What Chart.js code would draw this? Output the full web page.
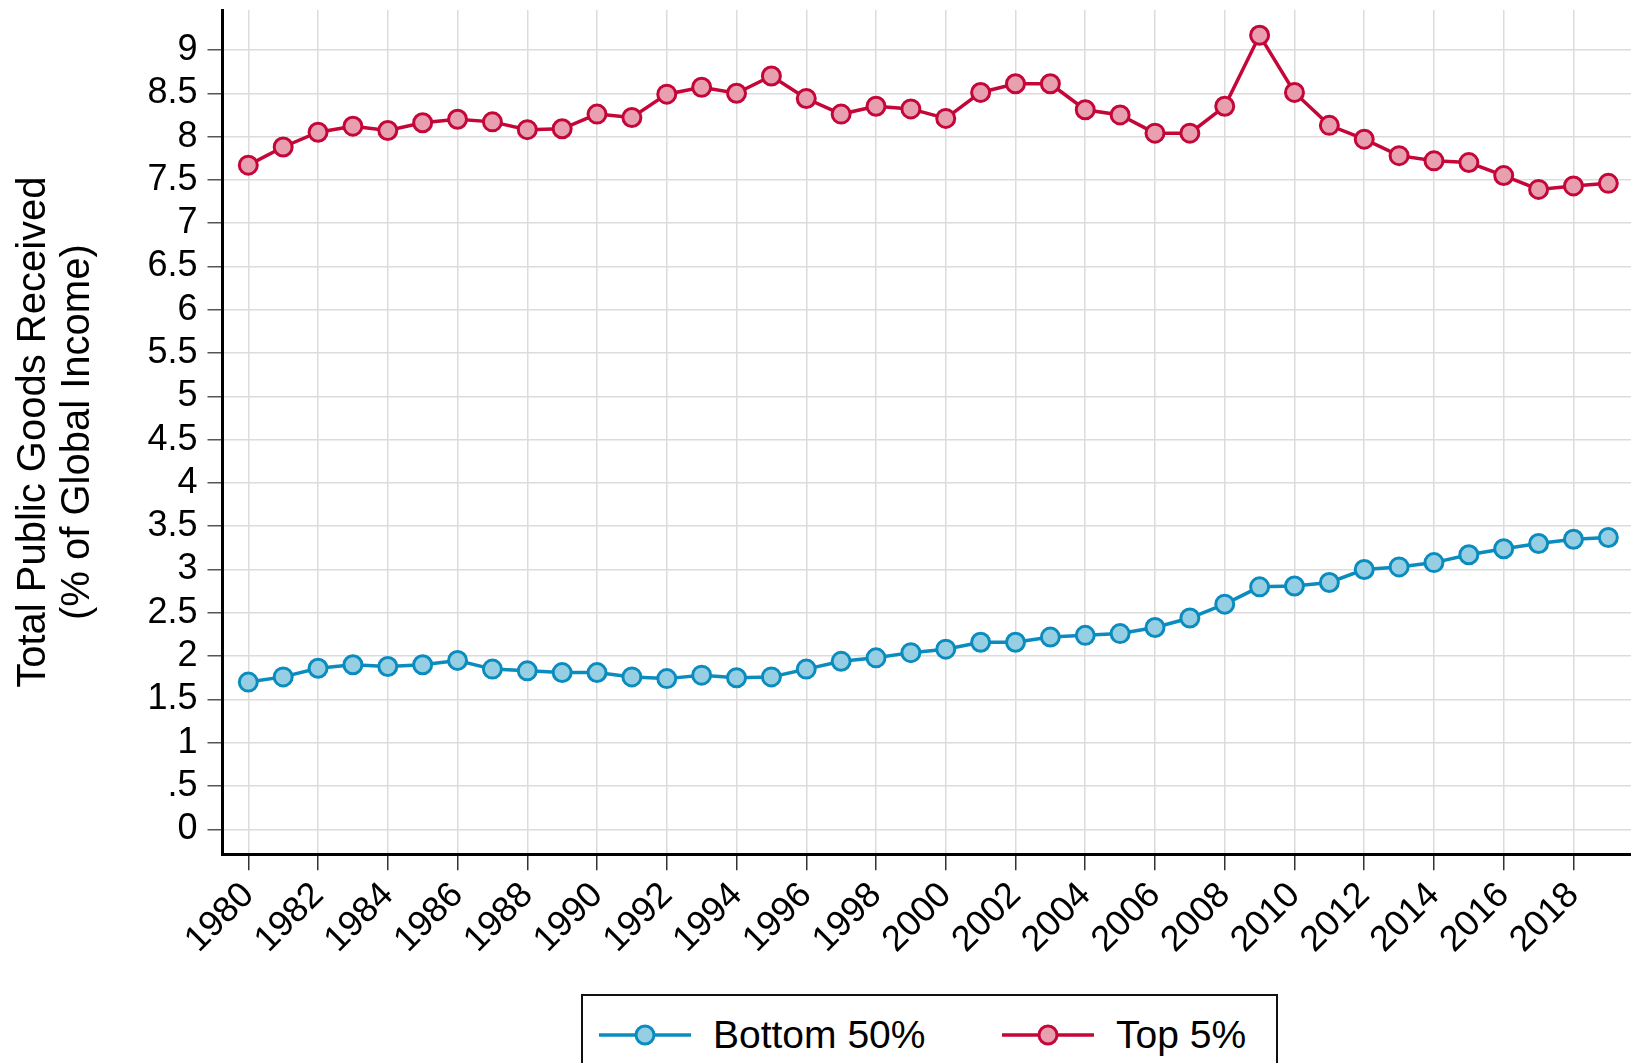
<!DOCTYPE html>
<html>
<head>
<meta charset="utf-8">
<script src="https://cdn.jsdelivr.net/npm/chart.js@4"></script>
<style>
  html, body { margin: 0; padding: 0; background: #fff; overflow: hidden; }
  #wrap { position: relative; width: 1631px; height: 1063px; }
  #legend {
    position: absolute; left: 581px; top: 994px; width: 693px; height: 90px;
    border: 2px solid #111; background: #fff;
    font-family: "Liberation Sans", Arial, sans-serif; font-size: 39px; color: #000;
  }
  .item { position: absolute; top: 17px; display: flex; align-items: center; }
  .item svg { margin-right: 22px; }
</style>
</head>
<body>
<div id="wrap">
  <canvas id="chart" width="1631" height="1063"></canvas>
  <div id="legend">
    <div class="item" style="left: 14px;">
      <svg width="94" height="40"><line x1="2" y1="20" x2="94" y2="20" stroke="#0a8cbf" stroke-width="3.5"/><circle cx="48" cy="20" r="9" fill="#96cfe3" stroke="#0a8cbf" stroke-width="3"/></svg>
      <span>Bottom 50%</span>
    </div>
    <div class="item" style="left: 417px;">
      <svg width="94" height="40"><line x1="2" y1="20" x2="94" y2="20" stroke="#c40638" stroke-width="3.5"/><circle cx="48" cy="20" r="9" fill="#e8a0b0" stroke="#c40638" stroke-width="3"/></svg>
      <span>Top 5%</span>
    </div>
  </div>
</div>
<script>
const years = [];
for (let y = 1980; y <= 2019; y++) years.push(y);

const bottom50 = [
  1.70, 1.76, 1.86, 1.90, 1.88, 1.90, 1.95, 1.85, 1.83, 1.81,
  1.81, 1.76, 1.74, 1.78, 1.75, 1.76, 1.85, 1.94, 1.98, 2.04,
  2.08, 2.16, 2.16, 2.22, 2.24, 2.26, 2.33, 2.44, 2.60, 2.80,
  2.81, 2.85, 3.00, 3.03, 3.08, 3.17, 3.24, 3.30, 3.35, 3.37
];
const top5 = [
  7.67, 7.88, 8.05, 8.12, 8.07, 8.16, 8.20, 8.17, 8.08, 8.09,
  8.26, 8.22, 8.49, 8.57, 8.50, 8.70, 8.44, 8.26, 8.35, 8.32,
  8.21, 8.51, 8.61, 8.61, 8.31, 8.25, 8.04, 8.04, 8.35, 9.17,
  8.51, 8.13, 7.97, 7.78, 7.72, 7.70, 7.55, 7.39, 7.43, 7.46
];

const xTickYears = [1980, 1982, 1984, 1986, 1988, 1990, 1992, 1994, 1996, 1998,
  2000, 2002, 2004, 2006, 2008, 2010, 2012, 2014, 2016, 2018];
const yTickValues = [0, 0.5, 1, 1.5, 2, 2.5, 3, 3.5, 4, 4.5, 5, 5.5, 6, 6.5, 7, 7.5, 8, 8.5, 9];
const yTickLabels = ["0", ".5", "1", "1.5", "2", "2.5", "3", "3.5", "4", "4.5", "5", "5.5", "6", "6.5", "7", "7.5", "8", "8.5", "9"];
const yTitle = ["Total Public Goods Received", "(% of Global Income)"];

const font = "'Liberation Sans', Arial, sans-serif";

function pts(vals) {
  return years.map((y, i) => ({ x: y, y: vals[i] }));
}

// drop the padding Chart.js reserves for edge labels, the plot runs to the canvas edges
function noPad(s) {
  s.paddingTop = 0;
  s.paddingBottom = 0;
  s.paddingLeft = 0;
  s.paddingRight = 0;
}

new Chart(document.getElementById("chart"), {
  type: "line",
  data: {
    datasets: [
      {
        label: "Bottom 50%",
        data: pts(bottom50),
        borderColor: "#0a8cbf",
        backgroundColor: "#96cfe3",
        borderWidth: 3.5,
        pointRadius: 9,
        pointBorderWidth: 3,
        pointBackgroundColor: "#96cfe3",
        pointBorderColor: "#0a8cbf",
        tension: 0,
      },
      {
        label: "Top 5%",
        data: pts(top5),
        borderColor: "#c40638",
        backgroundColor: "#e8a0b0",
        borderWidth: 3.5,
        pointRadius: 9,
        pointBorderWidth: 3,
        pointBackgroundColor: "#e8a0b0",
        pointBorderColor: "#c40638",
        tension: 0,
      },
    ],
  },
  options: {
    responsive: false,
    animation: false,
    layout: { autoPadding: false, padding: { top: 10, right: 0, left: 0, bottom: 0 } },
    scales: {
      x: {
        type: "linear",
        position: "bottom",
        min: 1979.26,
        max: 2019.65,
        afterBuildTicks: (axis) => {
          axis.ticks = xTickYears.map((v) => ({ value: v }));
        },
        afterFit: (s) => { s.height = 208.7; noPad(s); },
        ticks: {
          autoSkip: false,
          minRotation: 45,
          maxRotation: 45,
          padding: 4,
          color: "#000",
          font: { family: font, size: 36 },
          callback: (v) => String(v),
        },
        grid: { color: "#dcdcdc", lineWidth: 1.5, tickLength: 16, tickColor: "#333", tickWidth: 1.5 },
        border: { color: "#000", width: 3 },
      },
      y: {
        min: -0.289,
        max: 9.462,
        afterBuildTicks: (axis) => {
          axis.ticks = yTickValues.map((v) => ({ value: v }));
        },
        afterFit: (s) => { s.width = 222.5; noPad(s); },
        ticks: {
          autoSkip: false,
          padding: 10,
          color: "#000",
          font: { family: font, size: 36 },
          callback: (v) => yTickLabels[yTickValues.indexOf(v)],
        },
        grid: { color: "#dcdcdc", lineWidth: 1.5, tickLength: 15, tickColor: "#555", tickWidth: 1.5 },
        border: { color: "#000", width: 3 },
        title: {
          display: true,
          text: yTitle,
          color: "#000",
          font: { family: font, size: 40, lineHeight: 1.1 },
          padding: { top: 12, bottom: 0 },
        },
      },
    },
    plugins: {
      legend: { display: false },
      tooltip: { enabled: false },
    },
  },
});
</script>
</body>
</html>
